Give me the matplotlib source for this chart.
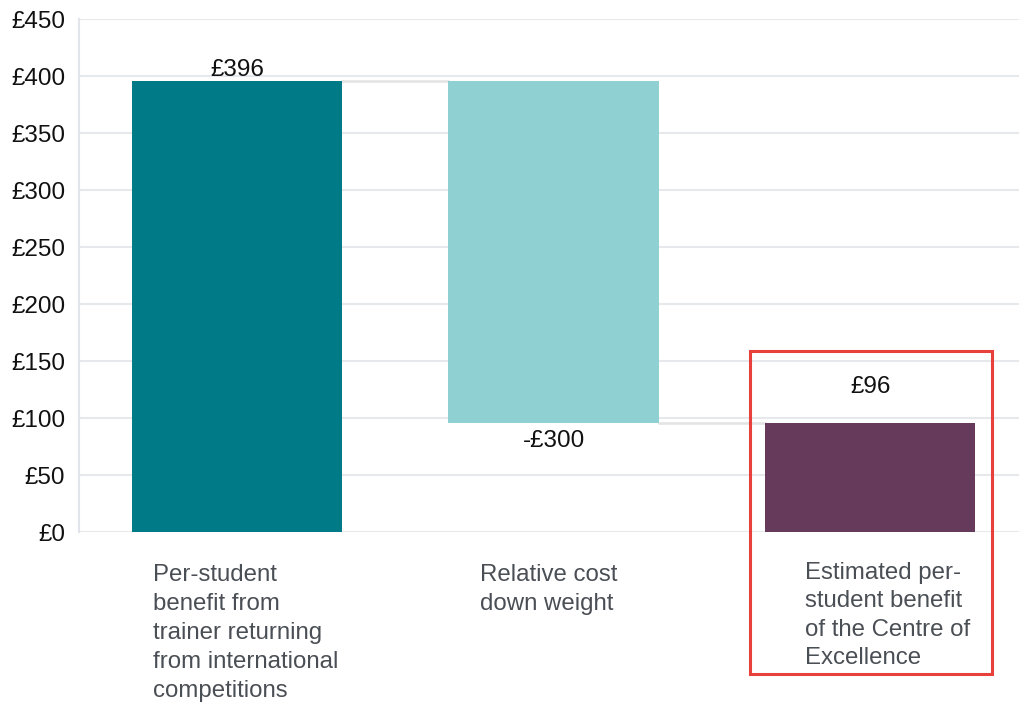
import matplotlib
matplotlib.use("Agg")
import matplotlib.pyplot as plt
from matplotlib.patches import Rectangle
import numpy as np

plt.rcParams['font.family'] = ['Liberation Sans', 'DejaVu Sans']

categories = ["Per-student\nbenefit from\ntrainer returning\nfrom international\ncompetitions",
              "Relative cost\ndown weight",
              "Estimated per-\nstudent benefit\nof the Centre of\nExcellence"]
changes = [396, -300, 96]          # step values
is_total = [False, False, True]
value_labels = ["£396", "-£300", "£96"]
bar_colors = ["#007A87", "#8FD1D3", "#663A5A"]
yticks = [0, 50, 100, 150, 200, 250, 300, 350, 400, 450]

fig = plt.figure(figsize=(10.19, 7.04), dpi=100)
ax = fig.add_axes([0.0775, 0.2443, 0.9225, 0.7287])

x = np.arange(len(categories))
bottoms, heights = [], []
running = 0
for c, tot in zip(changes, is_total):
    if tot:
        bottoms.append(0); heights.append(c); running = c
    else:
        if c >= 0:
            bottoms.append(running); heights.append(c)
        else:
            bottoms.append(running + c); heights.append(-c)
        running += c

width = 0.665
ax.bar(x, heights, bottom=bottoms, width=width, color=bar_colors, zorder=3)

# connectors
levels = np.cumsum(changes)
for i in range(len(categories) - 1):
    lvl = levels[i] if not is_total[i] else changes[i]
    ax.plot([x[i] + width / 2, x[i + 1] - width / 2], [lvl, lvl],
            color="#e3e3e3", lw=1.8, zorder=2)

# value labels
vfs = 17.5
ax.annotate(value_labels[0], (x[0], bottoms[0] + heights[0]), xytext=(0, 0),
            textcoords="offset points", ha="center", va="bottom", fontsize=vfs, color="#111111")
ax.annotate(value_labels[1], (x[1], bottoms[1]), xytext=(0, -5),
            textcoords="offset points", ha="center", va="top", fontsize=vfs, color="#111111")
ax.annotate(value_labels[2], (x[2], bottoms[2] + heights[2]), xytext=(0, 18),
            textcoords="offset points", ha="center", va="bottom", fontsize=vfs, color="#111111")

ax.set_ylim(0, 450)
ax.set_xlim(-0.5, 2.47)
ax.set_yticks(yticks)
ax.set_yticklabels([f"£{v}" for v in yticks], fontsize=17.5, color="#111111")
ax.set_xticks([])
ax.tick_params(axis='y', length=0, pad=10)
ax.grid(axis='y', color="#e6e8ec", lw=1.5, zorder=0)
ax.set_axisbelow(True)
for s in ["top", "right", "bottom"]:
    ax.spines[s].set_visible(False)
ax.spines["left"].set_color("#e1e4e8")
ax.spines["left"].set_linewidth(1.5)

# category labels (left aligned below bars)
offsets = [0.066, 0.098, 0.126]
label_y = [-28, -28, -26]
spacing = [1.41, 1.41, 1.38]
for i, lab in enumerate(categories):
    ax.text(x[i] - width / 2 + offsets[i], label_y[i], lab, ha="left", va="top",
            fontsize=17.3, color="#4a4f55", linespacing=spacing[i],
            transform=ax.transData, clip_on=False)

# red highlight box
fig.patches.append(Rectangle((750 / 1019, 1 - 674 / 704), (992 - 750) / 1019, (674 - 351) / 704,
                             transform=fig.transFigure, fill=False,
                             edgecolor="#E8413B", lw=2.2, zorder=10))

fig.savefig("out.png", dpi=100)
